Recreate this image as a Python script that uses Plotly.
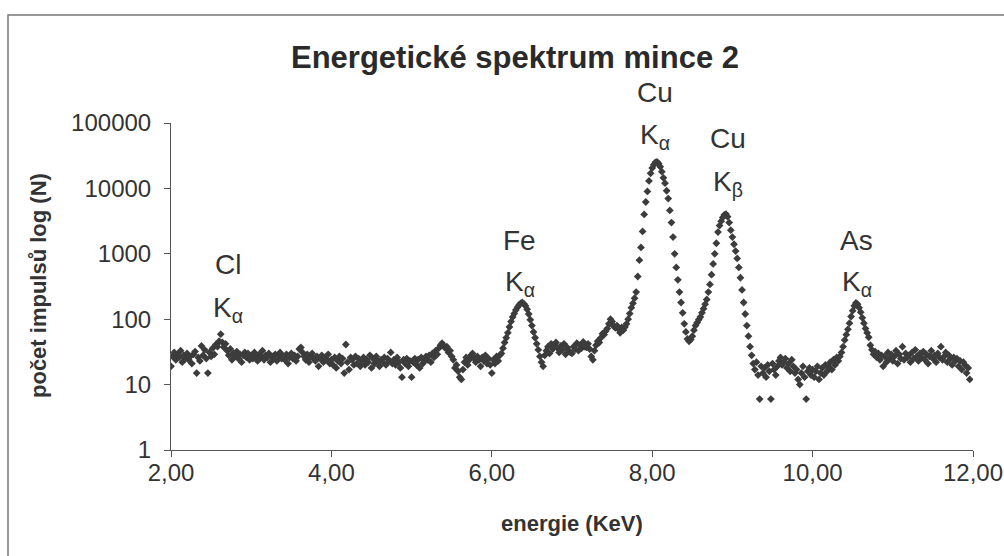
import plotly.graph_objects as go

# Channel grid of the spectrum (keV)
energy_start = 2.00
channel_width = 0.02

# Counts, 2.00-3.98 keV
counts_2_4 = [19, 27, 31, 24, 29, 26, 33, 22, 28, 25,
              30, 24, 27, 21, 29, 32, 15, 26, 23, 39,
              28, 34, 25, 15, 31, 27, 36, 29, 41, 38,
              46, 59, 44, 37, 42, 33, 28, 35, 24, 30,
              27, 32, 25, 29, 22, 28, 31, 26, 30, 24,
              28, 25, 31, 27, 23, 29, 26, 33, 24, 28,
              26, 30, 22, 27, 25, 29, 23, 28, 31, 25,
              27, 24, 29, 21, 26, 30, 25, 28, 23, 27,
              35, 37, 31, 27, 24, 29, 22, 26, 30, 25,
              23, 27, 19, 25, 28, 22, 26, 24, 29, 21]
# 4.00-5.98 keV
counts_4_6 = [24, 20, 26, 18, 23, 27, 21, 25, 15, 41,
              22, 17, 26, 24, 20, 27, 21, 25, 19, 23,
              26, 20, 24, 22, 28, 18, 25, 21, 27, 23,
              19, 24, 22, 26, 20, 25, 23, 31, 21, 24,
              20, 26, 22, 18, 13, 24, 21, 25, 19, 23,
              13, 22, 25, 20, 24, 18, 26, 21, 23, 27,
              24, 28, 22, 30, 26, 33, 29, 36, 40, 43,
              39, 36, 38, 31, 33, 27, 24, 18, 20, 16,
              13, 12, 17, 22, 26, 20, 24, 28, 30, 25,
              22, 27, 24, 19, 26, 23, 28, 21, 25, 20]
# 6.00-7.98 keV
counts_6_8 = [15, 24, 21, 27, 23, 28, 30, 36, 44, 52,
              62, 76, 92, 108, 122, 138, 152, 165, 175, 180,
              172, 160, 142, 120, 98, 80, 64, 52, 42, 34,
              27, 22, 19, 28, 33, 38, 30, 42, 35, 40,
              44, 36, 31, 39, 34, 42, 29, 37, 33, 31,
              30, 38, 35, 43, 33, 40, 36, 45, 38, 37,
              42, 35, 27, 24, 33, 40, 46, 44, 52, 60,
              58, 66, 72, 85, 100, 92, 78, 74, 80, 70,
              62, 75, 68, 76, 85, 100, 122, 150, 175, 210,
              260, 450, 800, 1250, 2200, 4000, 6200, 9000, 13000, 17000]
# 8.00-9.98 keV
counts_8_10 = [20500, 23000, 25000, 25500, 24000, 21500, 18000, 14500, 12000, 9200,
               7000, 4600, 3000, 1800, 1000, 620, 400, 260, 180, 125,
               85, 64, 50, 46, 49, 55, 68, 80, 88, 98,
               108, 125, 145, 170, 200, 260, 340, 480, 700, 1000,
               1450, 2150, 2700, 3150, 3600, 3950, 4050, 3700, 3000, 2300,
               1800, 1400, 1100, 850, 620, 430, 280, 180, 120, 80,
               55, 38, 28, 21, 17, 22, 14, 6, 19, 15,
               18, 13, 20, 16, 6, 21, 17, 14, 19, 23,
               26, 20, 22, 25, 18, 21, 16, 24, 19, 15,
               17, 12, 10, 15, 19, 13, 6, 16, 18, 14]
# 10.00-11.96 keV
counts_10_12 = [17, 13, 16, 19, 12, 15, 18, 14, 20, 16,
                19, 22, 17, 24, 20, 26, 23, 27, 31, 38,
                48, 58, 70, 87, 110, 135, 160, 177, 170, 150,
                128, 105, 87, 72, 62, 53, 40, 34, 29, 32,
                26, 30, 24, 28, 19, 27, 22, 31, 25, 29,
                23, 27, 33, 21, 29, 25, 38, 24, 30, 26,
                28, 22, 31, 25, 34, 27, 23, 30, 26, 32,
                24, 29, 21, 27, 33, 25, 28, 22, 30, 26,
                38, 24, 27, 31, 22, 28, 25, 20, 26, 23,
                25, 19, 23, 17, 22, 20, 15, 18, 12]

counts = counts_2_4 + counts_4_6 + counts_6_8 + counts_8_10 + counts_10_12
energy = [round(energy_start + channel_width * i, 2) for i in range(len(counts))]

x_tick_vals = [2, 4, 6, 8, 10, 12]
x_tick_text = ["2,00", "4,00", "6,00", "8,00", "10,00", "12,00"]
y_tick_vals = [1, 10, 100, 1000, 10000, 100000]
y_tick_text = ["1", "10", "100", "1000", "10000", "100000"]

# Peak labels: element, line, energy position, label heights (log10 of counts)
peak_elements = ["Cl", "Fe", "Cu", "Cu", "As"]
peak_lines = ["K<sub>α</sub>", "K<sub>α</sub>", "K<sub>α</sub>", "K<sub>β</sub>", "K<sub>α</sub>"]
peak_label_x = [2.71, 6.35, 8.03, 8.95, 10.55]
peak_label_top = [2.83, 3.21, 5.46, 4.77, 3.21]
peak_label_bottom = [2.15, 2.55, 4.80, 4.08, 2.55]

Y_DECADES = 5.0
FONT = "Liberation Sans, Arial, sans-serif"
TXT = "#333333"

fig = go.Figure()
fig.add_trace(go.Scatter(
    x=energy, y=counts, mode="markers",
    marker=dict(symbol="diamond", size=6, color="#3c3c3c", line=dict(width=0)),
    hoverinfo="x+y",
))

for el, ln, xv, yt, yb in zip(peak_elements, peak_lines, peak_label_x, peak_label_top, peak_label_bottom):
    fig.add_annotation(x=xv, y=yt / Y_DECADES, xref="x", yref="paper", text=el, showarrow=False,
                       font=dict(family=FONT, size=28, color=TXT), xanchor="center", yanchor="middle")
    fig.add_annotation(x=xv, y=yb / Y_DECADES, xref="x", yref="paper", text=ln, showarrow=False,
                       font=dict(family=FONT, size=28, color=TXT), xanchor="center", yanchor="middle")

fig.update_layout(
    width=1004, height=556, autosize=False,
    margin=dict(l=171, r=31, t=123, b=106, autoexpand=False),
    paper_bgcolor="white", plot_bgcolor="white",
    showlegend=False,
    font=dict(family=FONT, color=TXT),
    title=dict(text="<b>Energetické spektrum mince 2</b>", x=515/1004, xanchor="center",
               y=1 - 57/556, yanchor="middle", font=dict(family=FONT, size=31, color="#2a2a2a")),
    xaxis=dict(range=[2, 12], showline=True, linecolor="#555555", linewidth=1,
               ticks="outside", ticklen=6, tickcolor="#555555",
               tickvals=x_tick_vals, ticktext=x_tick_text,
               tickfont=dict(family=FONT, size=24, color=TXT), ticklabelstandoff=-5,
               showgrid=False, zeroline=False, automargin=False),
    yaxis=dict(type="log", range=[0, 5], showline=True, linecolor="#555555", linewidth=1,
               ticks="outside", ticklen=6, tickcolor="#555555",
               tickvals=y_tick_vals, ticktext=y_tick_text,
               tickfont=dict(family=FONT, size=24, color=TXT), ticklabelstandoff=8,
               showgrid=False, zeroline=False, automargin=False),
)

# axis titles
fig.add_annotation(x=(572 - 171) / 802, y=(450 - 523) / 327, xref="paper", yref="paper",
                   text="<b>energie (KeV)</b>", showarrow=False,
                   font=dict(family=FONT, size=22, color=TXT), xanchor="center", yanchor="middle")
fig.add_annotation(x=(38 - 171) / 802, y=(450 - 286) / 327, xref="paper", yref="paper",
                   text="<b>počet impulsů log (N)</b>", textangle=-90, showarrow=False,
                   font=dict(family=FONT, size=22, color=TXT), xanchor="center", yanchor="middle")

# outer chart frame (extends beyond the right and bottom edges)
fig.add_shape(type="rect", xref="paper", yref="paper",
              x0=(8 - 171) / 802, x1=(1010 - 171) / 802,
              y0=(450 - 562) / 327, y1=(450 - 15) / 327,
              line=dict(color="#777777", width=1.5), fillcolor="rgba(0,0,0,0)", layer="below")

fig.write_html("out.html",
               config={"displayModeBar": False, "responsive": False},
               post_script="document.body.style.margin='0';document.body.style.overflow='hidden';"
                           "document.documentElement.style.overflow='hidden';")
